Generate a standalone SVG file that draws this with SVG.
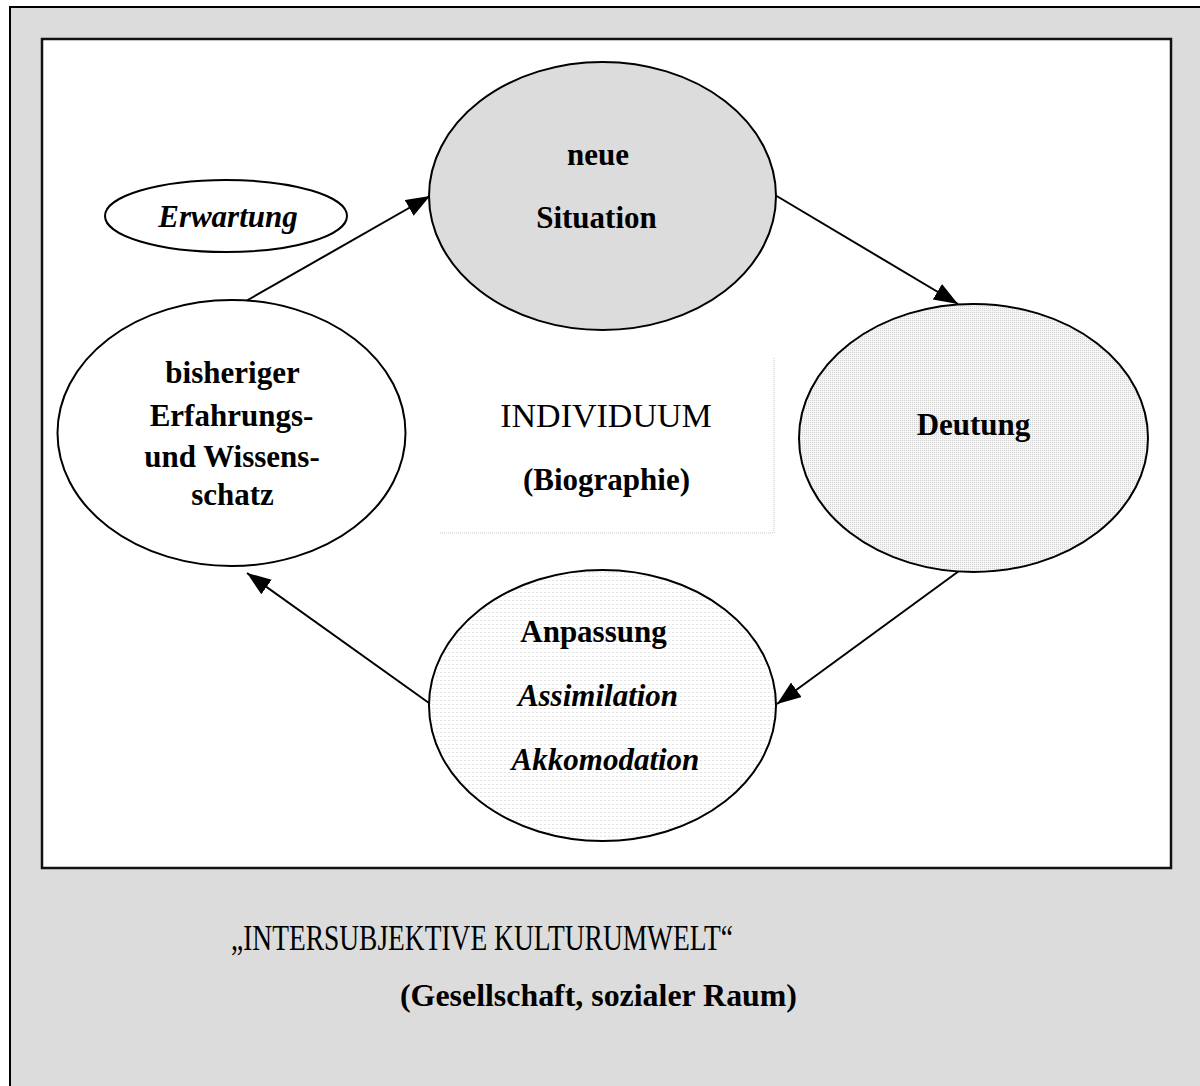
<svg xmlns="http://www.w3.org/2000/svg" width="1200" height="1086" viewBox="0 0 1200 1086">
  <style>
    .node { stroke: #000; stroke-width: 2; }
    .lbl { font-family: "Liberation Serif", "Times New Roman", serif; font-size: 31px; font-weight: bold; fill: #000; text-anchor: middle; }
    .it { font-style: italic; }
    .edge { stroke: #000; stroke-width: 2; fill: none; marker-end: url(#head); }
  </style>
  <defs>
    <marker id="head" markerUnits="userSpaceOnUse" markerWidth="26" markerHeight="20" refX="24" refY="9" orient="auto">
      <path d="M0,0 L24,9 L0,18 z" fill="#000"/>
    </marker>
    <!-- dense stipple -->
    <pattern id="stipple" width="2" height="2" patternUnits="userSpaceOnUse">
      <rect width="2" height="2" fill="#f6f6f6"/>
      <rect width="1" height="1" fill="#d2d2d2"/>
    </pattern>
    <!-- sparse dotted grid -->
    <pattern id="dots" width="4" height="4" patternUnits="userSpaceOnUse">
      <rect width="4" height="4" fill="#ffffff"/>
      <rect width="2" height="1" fill="#e2e2e2"/>
    </pattern>
  </defs>

  <!-- surrounding frame: cultural environment -->
  <rect x="10" y="7" width="1260" height="1160" fill="#dcdcdc" stroke="#000" stroke-width="2"/>
  <!-- inner field: individual -->
  <rect x="42" y="39" width="1129" height="829" fill="#fff" stroke="#111" stroke-width="2.5"/>

  <!-- faint box around the centre label -->
  <g id="individuum">
    <path d="M774,358 V533 H440" fill="none" stroke="#c8c8c8" stroke-width="1" stroke-dasharray="1 1"/>
    <text x="606" y="427" font-family="'Liberation Serif', 'Times New Roman', serif" font-size="34" text-anchor="middle" fill="#000">INDIVIDUUM</text>
    <text class="lbl" x="606.5" y="490">(Biographie)</text>
  </g>

  <g id="connectors">
    <line class="edge" x1="246" y1="301" x2="430" y2="196"/>
    <line class="edge" x1="775" y1="195" x2="958" y2="304"/>
    <line class="edge" x1="959" y1="571" x2="777" y2="704"/>
    <line class="edge" x1="429" y1="703" x2="247" y2="573"/>
  </g>

  <g id="erwartung">
    <ellipse class="node" cx="226" cy="216" rx="121" ry="36" fill="#fff"/>
    <text class="lbl it" x="228" y="227">Erwartung</text>
  </g>

  <g id="neue-situation">
    <ellipse class="node" cx="602.5" cy="196" rx="173.5" ry="134" fill="#dcdcdc"/>
    <text class="lbl" x="598" y="165">neue</text>
    <text class="lbl" x="596.5" y="228">Situation</text>
  </g>

  <g id="deutung">
    <ellipse class="node" cx="973.5" cy="438" rx="174.5" ry="134" fill="url(#stipple)"/>
    <text class="lbl" x="973.5" y="435">Deutung</text>
  </g>

  <g id="anpassung">
    <ellipse class="node" cx="602.5" cy="705.5" rx="173.5" ry="135.5" fill="url(#dots)"/>
    <text class="lbl" x="593.5" y="642">Anpassung</text>
    <text class="lbl it" x="598" y="706">Assimilation</text>
    <text class="lbl it" x="605.5" y="770">Akkomodation</text>
  </g>

  <g id="wissensschatz">
    <ellipse class="node" cx="231.5" cy="433" rx="174" ry="133" fill="#fff"/>
    <text class="lbl" x="232.5" y="383">bisheriger</text>
    <text class="lbl" x="231.5" y="426">Erfahrungs-</text>
    <text class="lbl" x="232" y="467">und Wissens-</text>
    <text class="lbl" x="232.5" y="505">schatz</text>
  </g>

  <g id="kulturumwelt">
    <text x="231" y="950" font-family="'Liberation Serif', 'Times New Roman', serif" font-size="36" fill="#000" textLength="502" lengthAdjust="spacingAndGlyphs">„INTERSUBJEKTIVE KULTURUMWELT“</text>
    <text class="lbl" x="598.5" y="1006" textLength="397" lengthAdjust="spacingAndGlyphs">(Gesellschaft, sozialer Raum)</text>
  </g>
</svg>
